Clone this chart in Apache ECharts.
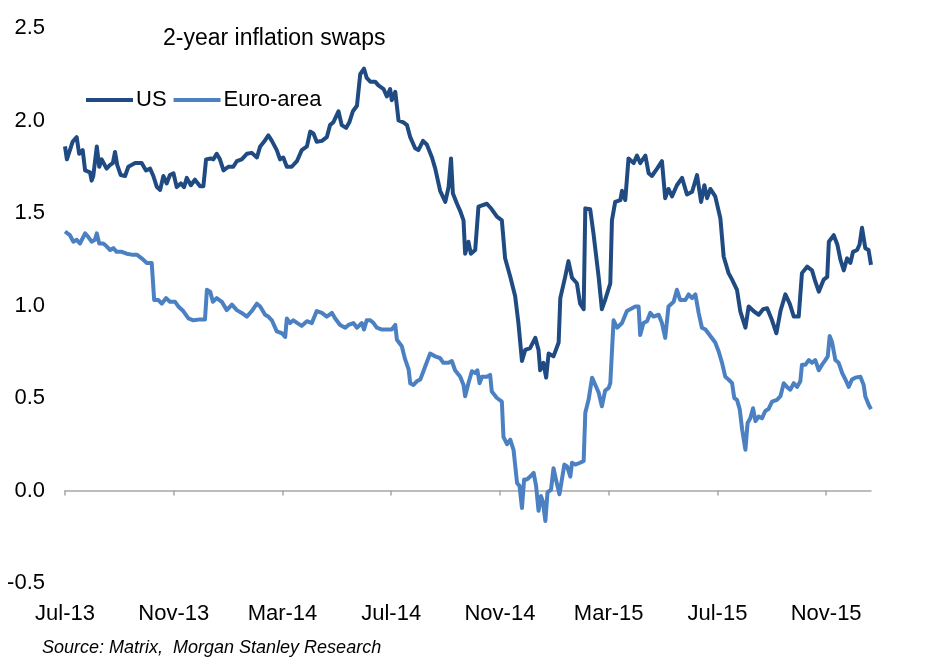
<!DOCTYPE html>
<html>
<head>
<meta charset="utf-8">
<title>2-year inflation swaps</title>
<script src="https://cdn.jsdelivr.net/npm/echarts@6.0.0/dist/echarts.min.js"></script>
<style>
  html, body { margin: 0; padding: 0; background: #fff; }
  #chart { width: 932px; height: 669px; }
</style>
</head>
<body>
<div id="chart"></div>
<script>
// x values are months since Jul-13
var tickLabels = ["Jul-13", "Nov-13", "Mar-14", "Jul-14", "Nov-14", "Mar-15", "Jul-15", "Nov-15"];
var tickMonths = [0, 4, 8, 12, 16, 20, 24, 28];
var lastMonth = 29.65;

var usMonths = [0.00,0.07,0.28,0.43,0.52,0.65,0.74,0.92,0.98,1.04,1.17,1.26,1.35,1.53,1.66,1.76,1.84,1.92,2.05,2.21,
  2.33,2.58,2.82,2.98,3.13,3.25,3.38,3.50,3.62,3.74,3.86,3.99,4.11,4.26,4.38,4.48,4.63,4.78,4.97,5.09,
  5.19,5.36,5.46,5.58,5.70,5.83,6.01,6.19,6.32,6.50,6.69,6.87,7.06,7.18,7.32,7.48,7.61,7.79,7.91,8.03,
  8.16,8.34,8.53,8.71,8.90,9.02,9.14,9.26,9.45,9.63,9.75,9.87,10.06,10.18,10.34,10.46,10.59,10.74,10.86,11.00,
  11.10,11.23,11.41,11.53,11.72,11.84,11.96,12.02,12.15,12.27,12.45,12.58,12.70,12.88,13.00,13.17,13.31,13.50,13.62,13.80,
  13.99,14.11,14.20,14.27,14.42,14.54,14.66,14.72,14.84,14.93,15.09,15.21,15.52,15.70,15.89,16.07,16.19,16.38,16.56,16.68,
  16.81,16.93,17.11,17.30,17.42,17.48,17.60,17.70,17.79,17.97,18.16,18.22,18.40,18.52,18.65,18.83,18.95,19.08,19.14,19.32,
  19.44,19.63,19.75,19.87,20.06,20.12,20.24,20.43,20.49,20.61,20.73,20.92,21.04,21.16,21.35,21.47,21.59,21.78,21.96,22.08,
  22.20,22.33,22.51,22.70,22.88,23.07,23.25,23.40,23.52,23.62,23.74,23.92,24.11,24.23,24.41,24.54,24.72,24.84,25.03,25.15,
  25.33,25.52,25.68,25.83,26.01,26.17,26.32,26.50,26.66,26.81,26.99,27.11,27.30,27.48,27.60,27.73,27.91,28.04,28.10,28.28,
  28.41,28.53,28.65,28.77,28.89,28.99,29.14,29.23,29.32,29.44,29.56,29.65];
var usValues = [1.86,1.79,1.885,1.91,1.82,1.84,1.73,1.72,1.675,1.70,1.86,1.75,1.79,1.74,1.76,1.77,1.83,1.76,1.705,1.70,
  1.75,1.77,1.77,1.73,1.74,1.70,1.64,1.625,1.70,1.66,1.705,1.715,1.64,1.66,1.64,1.69,1.65,1.68,1.645,1.645,
  1.79,1.795,1.79,1.82,1.79,1.73,1.75,1.75,1.78,1.79,1.82,1.825,1.80,1.86,1.885,1.92,1.89,1.84,1.79,1.80,
  1.75,1.75,1.78,1.84,1.86,1.94,1.93,1.885,1.89,1.91,1.975,1.99,2.05,1.975,1.96,1.99,2.05,2.08,2.25,2.28,
  2.23,2.21,2.21,2.19,2.17,2.13,2.17,2.11,2.155,2.00,1.99,1.975,1.91,1.85,1.84,1.89,1.87,1.80,1.74,1.62,
  1.56,1.64,1.795,1.605,1.55,1.51,1.46,1.28,1.345,1.28,1.30,1.535,1.55,1.52,1.48,1.46,1.255,1.155,1.05,0.905,
  0.70,0.76,0.77,0.825,0.76,0.65,0.69,0.61,0.74,0.725,0.80,1.04,1.155,1.24,1.15,1.12,1.01,0.98,1.525,1.52,
  1.39,1.155,0.98,1.03,1.12,1.46,1.56,1.57,1.62,1.57,1.795,1.77,1.81,1.77,1.81,1.715,1.70,1.74,1.78,1.58,
  1.63,1.59,1.65,1.69,1.60,1.615,1.705,1.56,1.65,1.58,1.63,1.59,1.47,1.265,1.175,1.14,1.085,0.97,0.88,0.995,
  0.97,0.95,0.98,0.985,0.92,0.85,0.97,1.06,1.01,0.94,0.94,1.175,1.21,1.19,1.13,1.075,1.14,1.155,1.345,1.38,
  1.33,1.245,1.19,1.255,1.23,1.29,1.30,1.33,1.42,1.31,1.30,1.22];

var euMonths = [0.00,0.18,0.31,0.43,0.55,0.74,0.86,0.98,1.10,1.17,1.26,1.41,1.53,1.66,1.78,1.90,2.09,2.27,2.45,2.64,
  2.82,3.01,3.19,3.28,3.43,3.56,3.72,3.86,4.05,4.17,4.35,4.54,4.72,4.97,5.15,5.22,5.34,5.44,5.58,5.77,
  5.95,6.14,6.32,6.50,6.69,6.87,7.06,7.18,7.36,7.48,7.61,7.79,7.98,8.10,8.16,8.28,8.40,8.55,8.71,8.90,
  9.08,9.26,9.45,9.63,9.82,9.94,10.12,10.31,10.43,10.61,10.74,10.92,11.00,11.10,11.23,11.35,11.47,11.66,11.84,12.02,
  12.15,12.21,12.39,12.51,12.64,12.70,12.82,12.94,13.07,13.25,13.43,13.62,13.80,13.92,14.11,14.23,14.35,14.54,14.66,14.72,
  14.84,14.97,15.09,15.17,15.25,15.34,15.52,15.64,15.70,15.89,16.07,16.13,16.26,16.38,16.50,16.63,16.72,16.81,16.89,16.99,
  17.11,17.24,17.33,17.42,17.51,17.58,17.67,17.75,17.88,17.97,18.09,18.19,18.28,18.37,18.47,18.59,18.65,18.77,18.95,19.08,
  19.14,19.26,19.39,19.51,19.63,19.75,19.87,20.00,20.06,20.18,20.31,20.49,20.67,20.86,20.98,21.10,21.16,21.28,21.41,21.53,
  21.65,21.84,21.96,22.08,22.20,22.39,22.51,22.63,22.82,22.94,23.07,23.19,23.31,23.43,23.56,23.74,23.92,24.05,24.17,24.29,
  24.41,24.54,24.62,24.72,24.82,24.91,25.03,25.11,25.21,25.31,25.40,25.52,25.64,25.76,25.88,26.01,26.19,26.32,26.44,26.56,
  26.68,26.81,26.93,27.05,27.11,27.24,27.36,27.48,27.60,27.73,27.85,27.97,28.06,28.13,28.22,28.34,28.46,28.59,28.71,28.83,
  28.95,29.07,29.26,29.38,29.44,29.56,29.65];
var euValues = [1.40,1.38,1.345,1.355,1.335,1.39,1.37,1.345,1.355,1.39,1.335,1.335,1.32,1.30,1.31,1.29,1.29,1.28,1.275,1.275,
  1.255,1.23,1.23,1.03,1.03,1.01,1.04,1.02,1.02,0.995,0.97,0.93,0.92,0.925,0.925,1.085,1.075,1.02,1.04,1.02,
  0.975,1.005,0.975,0.96,0.94,0.97,1.01,0.995,0.95,0.94,0.92,0.86,0.85,0.83,0.93,0.905,0.92,0.905,0.89,0.915,
  0.905,0.97,0.96,0.94,0.96,0.93,0.895,0.88,0.895,0.905,0.88,0.905,0.87,0.92,0.92,0.905,0.88,0.87,0.87,0.87,
  0.895,0.815,0.78,0.71,0.655,0.58,0.57,0.59,0.60,0.67,0.74,0.725,0.715,0.69,0.69,0.70,0.65,0.615,0.57,0.51,
  0.58,0.645,0.635,0.65,0.58,0.615,0.615,0.625,0.535,0.50,0.48,0.29,0.25,0.275,0.22,0.04,0.025,-0.095,0.06,0.06,
  0.075,0.095,0.025,-0.11,-0.03,-0.06,-0.165,-0.01,0.005,0.12,0.04,-0.02,0.06,0.14,0.13,0.075,0.15,0.14,0.15,0.16,
  0.42,0.49,0.61,0.57,0.53,0.455,0.54,0.555,0.58,0.92,0.88,0.905,0.97,0.985,0.995,0.995,0.84,0.905,0.915,0.96,
  0.94,0.95,0.905,0.825,0.995,1.02,1.085,1.03,1.03,1.06,1.04,1.06,0.96,0.88,0.87,0.835,0.80,0.75,0.69,0.615,
  0.60,0.58,0.50,0.49,0.44,0.33,0.22,0.365,0.39,0.445,0.375,0.40,0.39,0.43,0.44,0.48,0.49,0.51,0.58,0.56,
  0.545,0.58,0.56,0.59,0.68,0.68,0.705,0.69,0.705,0.65,0.68,0.705,0.725,0.835,0.80,0.705,0.69,0.635,0.60,0.56,
  0.60,0.61,0.615,0.57,0.51,0.465,0.44];

var FONT = "'Liberation Sans', Arial, sans-serif";
var US_COLOR = "#1F4B82";
var EU_COLOR = "#4B80C3";

function pairs(xs, ys) {
    var out = [];
    for (var i = 0; i < xs.length; i++) {
        out.push([xs[i], ys[i]]);
    }
    return out;
}

var chart = echarts.init(document.getElementById("chart"), null, { renderer: "canvas" });

chart.setOption({
    animation: false,
    backgroundColor: "#fff",
    title: {
        text: "2-year inflation swaps",
        left: 163,
        top: 27,
        padding: 0,
        textStyle: { fontFamily: FONT, fontSize: 23, fontWeight: "normal", color: "#000" }
    },
    legend: {
        left: 86,
        top: 89,
        padding: 0,
        icon: "rect",
        itemWidth: 47,
        itemHeight: 4,
        itemGap: 7,
        textStyle: { fontFamily: FONT, fontSize: 22, color: "#000", padding: [0, 0, 0, -2] },
        data: ["US", "Euro-area"]
    },
    grid: { left: 65, right: 61, top: 28, bottom: 86, containLabel: false },
    xAxis: [
        {
            // zero line with ticks
            type: "value",
            position: "bottom",
            min: 0,
            max: lastMonth,
            interval: 4,
            axisLine: { show: true, onZero: true, lineStyle: { color: "#a6a6a6", width: 1.5 } },
            axisTick: { show: true, length: 5, customValues: tickMonths, lineStyle: { color: "#a6a6a6", width: 1.5 } },
            axisLabel: { show: false },
            splitLine: { show: false }
        },
        {
            // labels along the bottom
            type: "value",
            position: "bottom",
            min: 0,
            max: lastMonth,
            interval: 4,
            axisLine: { show: false, onZero: false },
            axisTick: { show: false },
            splitLine: { show: false },
            axisLabel: {
                show: true,
                margin: 20,
                customValues: tickMonths,
                fontFamily: FONT,
                fontSize: 22,
                color: "#000",
                formatter: function (v) {
                    var i = tickMonths.indexOf(Math.round(v));
                    return i >= 0 ? tickLabels[i] : "";
                }
            }
        }
    ],
    yAxis: {
        type: "value",
        min: -0.5,
        max: 2.5,
        interval: 0.5,
        axisLine: { show: false },
        axisTick: { show: false },
        splitLine: { show: false },
        axisLabel: {
            margin: 20,
            fontFamily: FONT,
            fontSize: 22,
            color: "#000",
            formatter: function (v) { return v.toFixed(1); }
        }
    },
    series: [
        {
            name: "US",
            type: "line",
            xAxisIndex: 0,
            data: pairs(usMonths, usValues),
            symbol: "none",
            color: US_COLOR,
            lineStyle: { width: 4, color: US_COLOR, join: "round" },
            z: 3
        },
        {
            name: "Euro-area",
            type: "line",
            xAxisIndex: 0,
            data: pairs(euMonths, euValues),
            symbol: "none",
            color: EU_COLOR,
            lineStyle: { width: 4, color: EU_COLOR, join: "round" },
            z: 2
        }
    ],
    graphic: [
        {
            type: "text",
            left: 42,
            top: 639,
            style: {
                text: "Source: Matrix,  Morgan Stanley Research",
                fontFamily: FONT,
                fontSize: 18,
                fontStyle: "italic",
                fill: "#000"
            }
        }
    ]
});
</script>
</body>
</html>
